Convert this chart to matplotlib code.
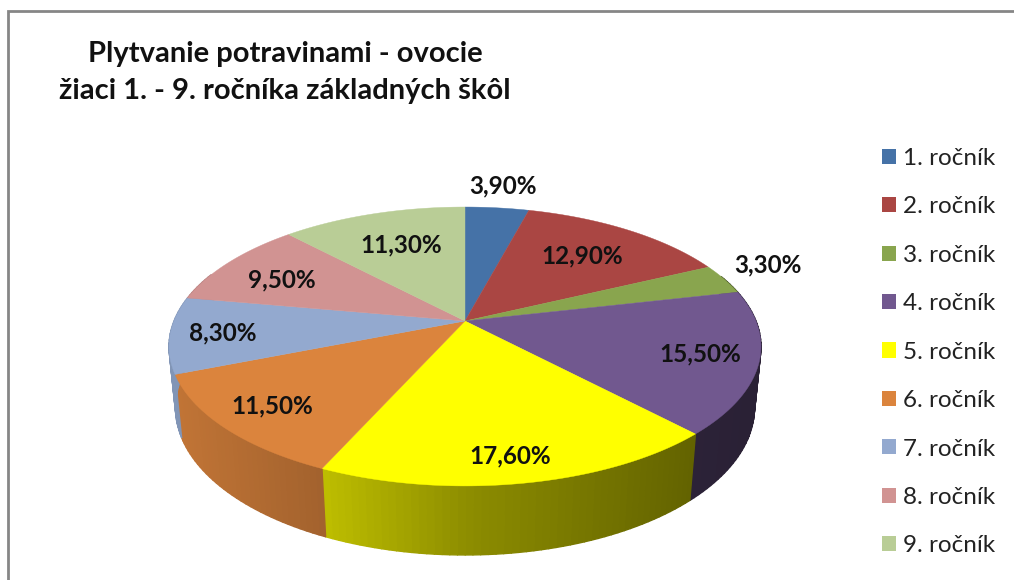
import numpy as np
import matplotlib
matplotlib.use("Agg")
import matplotlib.pyplot as plt
from matplotlib.collections import PolyCollection
from matplotlib.patches import Patch

titulok = "Plytvanie potravinami - ovocie\nžiaci 1. - 9. ročníka základných škôl"
rocniky = ["1. ročník", "2. ročník", "3. ročník", "4. ročník", "5. ročník",
           "6. ročník", "7. ročník", "8. ročník", "9. ročník"]
hodnoty = [3.9, 12.9, 3.3, 15.5, 17.6, 11.5, 8.3, 9.5, 11.3]
popisy = ["3,90%", "12,90%", "3,30%", "15,50%", "17,60%",
          "11,50%", "8,30%", "9,50%", "11,30%"]
farby = ["#4572A7", "#AA4643", "#89A54E", "#71588F", "#FFFF00",
         "#DB843D", "#93A9CF", "#D19392", "#B9CD96"]

# kde sedia popisy (pixely obrazka)
popisy_x = [503, 582, 768, 700, 510, 272, 223, 282, 401]
popisy_y = [186, 256, 265, 354, 456, 406, 333, 280, 245]

# perspektiva kolaca
cx, cy = 465, 321
A, B, k = 291, 134.8, 0.1827
C, m = 61.5, 0.0217


def projekcia(uhol, spodok=False):
    u, v = np.sin(uhol), np.cos(uhol)
    if spodok:
        w = 1 + k * v + m
        return cx + A * u / w, cy - (B * v - C) / w
    w = 1 + k * v
    return cx + A * u / w, cy - B * v / w


def tien(x):
    return np.interp(x, [175, 325, 470, 690, 755], [0.88, 0.74, 0.55, 0.39, 0.37])


plt.rcParams["font.family"] = ["Lato", "DejaVu Sans"]
fig = plt.figure(figsize=(10.14, 5.80), dpi=100)
ax = fig.add_axes([0, 0, 1, 1])
ax.set_xlim(0, 1014)
ax.set_ylim(580, 0)
ax.axis("off")

ax.plot([8, 8, 1014], [580, 11, 11], color="#868686", lw=2, solid_joinstyle="miter")

hranice = np.cumsum([0] + hodnoty) / sum(hodnoty) * 2 * np.pi

# bocna stena
for i in range(len(hodnoty)):
    t = np.linspace(hranice[i], hranice[i + 1], int(hodnoty[i] * 3) + 2)
    hx, hy = projekcia(t)
    dx, dy = projekcia(t, spodok=True)
    stvorce = []
    odtiene = []
    zaklad = np.array(matplotlib.colors.to_rgb(farby[i]))
    for j in range(len(t) - 1):
        if np.cos(t[j]) > 0.35:
            continue
        stvorce.append([(hx[j], hy[j]), (hx[j + 1], hy[j + 1]),
                        (dx[j + 1], dy[j + 1]), (dx[j], dy[j])])
        odtiene.append(zaklad * tien((hx[j] + hx[j + 1]) / 2))
    if stvorce:
        ax.add_collection(PolyCollection(stvorce, facecolors=odtiene,
                                         edgecolors=odtiene, linewidths=1.0))

# horna plocha
for i in range(len(hodnoty)):
    t = np.linspace(hranice[i], hranice[i + 1], int(hodnoty[i] * 8) + 2)
    hx, hy = projekcia(t)
    ax.fill(np.r_[cx, hx], np.r_[cy, hy], color=farby[i], lw=0.3)

for i in range(len(popisy)):
    ax.text(popisy_x[i], popisy_y[i], popisy[i], ha="center", va="center",
            fontsize=17.5, fontweight="bold", color="#111111")

ax.text(285, 72.5, titulok, ha="center", va="center", fontsize=21,
        fontweight="bold", color="#111111", linespacing=1.49)

znacky = [Patch(facecolor=f, edgecolor="none") for f in farby]
ax.legend(znacky, rocniky, loc="upper left", bbox_to_anchor=(872 / 1014, 1 - 138 / 580),
          frameon=False, fontsize=17.5, labelspacing=1.13, handlelength=0.58,
          handleheight=0.58, handletextpad=0.29, labelcolor="#222222",
          borderpad=0.4, borderaxespad=0)

fig.savefig("out.png", dpi=100)
